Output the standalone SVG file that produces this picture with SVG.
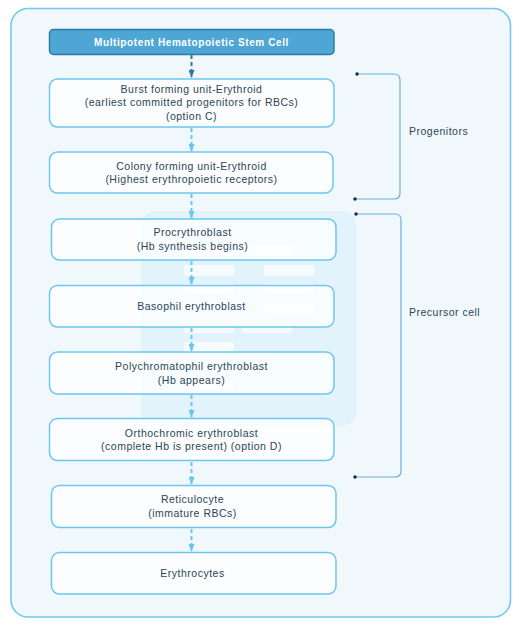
<svg xmlns="http://www.w3.org/2000/svg" width="519" height="625" viewBox="0 0 519 625">
<style>
.frame{fill:#f1f8fc;stroke:#72c8f2;stroke-width:1.6}
.box{fill:#ffffff;fill-opacity:0.72;stroke:#6cc6f0;stroke-width:1.5}
.top{fill:#4ea6d4;stroke:#2d7ba5;stroke-width:1.5}
.t{font-family:"Liberation Sans",Arial,sans-serif;font-size:10.5px;letter-spacing:0.5px;fill:#2b4656;text-anchor:middle}
.tb{font-family:"Liberation Sans",Arial,sans-serif;font-size:10px;letter-spacing:0.6px;font-weight:bold;fill:#ffffff;text-anchor:middle}
.lbl{font-family:"Liberation Sans",Arial,sans-serif;font-size:10.5px;letter-spacing:0.5px;fill:#2b4656}
.arr{fill:none;stroke:#6cc6f0;stroke-width:2;stroke-dasharray:4 3}
.arr0{fill:none;stroke:#2d7ba5;stroke-width:2;stroke-dasharray:4 3}
.br{fill:none;stroke:#6aaedd;stroke-width:1.2}
.dot{fill:#1b2836}
.wm{fill:#d4eef9;fill-opacity:0.5}
.bar{fill:#ffffff;fill-opacity:0.7}
</style>
<defs>
<marker id="ah" viewBox="0 0 8 6" refX="7" refY="3" markerWidth="8" markerHeight="6" markerUnits="userSpaceOnUse" orient="auto">
<path d="M0,0 L8,3 L0,6 Z" fill="#6cc6f0"/>
</marker>
<marker id="ah0" viewBox="0 0 8 6" refX="7" refY="3" markerWidth="8" markerHeight="6" markerUnits="userSpaceOnUse" orient="auto">
<path d="M0,0 L8,3 L0,6 Z" fill="#2d7ba5"/>
</marker>
</defs>
<rect class="frame" x="11" y="8.5" width="499.5" height="608.5" rx="17"/>
<g id="watermark">
<rect class="wm" x="141" y="211" width="216" height="215" rx="15"/>
<rect class="bar" x="184" y="245" width="50" height="11" rx="2"/>
<rect class="bar" x="242" y="245" width="50" height="11" rx="2"/>
<rect class="bar" x="184" y="265" width="50" height="11" rx="2"/>
<rect class="bar" x="264" y="265" width="50" height="11" rx="2"/>
<rect class="bar" x="184" y="284" width="50" height="10" rx="2"/>
<rect class="bar" x="264" y="284" width="50" height="10" rx="2"/>
<rect class="bar" x="264" y="303" width="50" height="11" rx="2"/>
<rect class="bar" x="184" y="322" width="50" height="11" rx="2"/>
<rect class="bar" x="242" y="322" width="50" height="11" rx="2"/>
<rect class="bar" x="184" y="342" width="50" height="10" rx="2"/>
<rect class="bar" x="184" y="380" width="50" height="10" rx="2"/>
</g>
<g id="connectors">
<path class="arr0" d="M191.5,55 V77" marker-end="url(#ah0)"/>
<path class="arr" d="M191.5,128 V151" marker-end="url(#ah)"/>
<path class="arr" d="M191.5,194 V218" marker-end="url(#ah)"/>
<path class="arr" d="M191.5,261 V284" marker-end="url(#ah)"/>
<path class="arr" d="M191.5,328 V351" marker-end="url(#ah)"/>
<path class="arr" d="M191.5,395 V417" marker-end="url(#ah)"/>
<path class="arr" d="M191.5,462 V484" marker-end="url(#ah)"/>
<path class="arr" d="M191.5,529 V551" marker-end="url(#ah)"/>
<path class="br" d="M357,74 H394 Q400,74 400,80 V193 Q400,199 394,199 H355"/>
<circle class="dot" cx="357" cy="74" r="1.7"/>
<circle class="dot" cx="355" cy="199" r="1.7"/>
<path class="br" d="M356,214 H395 Q401,214 401,220 V471 Q401,477 395,477 H355"/>
<circle class="dot" cx="356" cy="214" r="1.7"/>
<circle class="dot" cx="355" cy="477" r="1.7"/>
</g>
<g id="n0">
<rect class="top" x="49.5" y="29.5" width="284.5" height="25" rx="4"/>
<text class="tb" x="191.5" y="45.5">Multipotent Hematopoietic Stem Cell</text>
</g>
<g id="n1">
<rect class="box" x="49.5" y="79" width="284.5" height="48" rx="8"/>
<text class="t" x="191.5" y="93">Burst forming unit-Erythroid</text>
<text class="t" x="191.5" y="106">(earliest committed progenitors for RBCs)</text>
<text class="t" x="191.5" y="120">(option C)</text>
</g>
<g id="n2">
<rect class="box" x="49.5" y="152" width="283.5" height="41" rx="8"/>
<text class="t" x="191.5" y="170">Colony forming unit-Erythroid</text>
<text class="t" x="191.5" y="183">(Highest erythropoietic receptors)</text>
</g>
<g id="n3">
<rect class="box" x="51.5" y="219" width="284.5" height="41" rx="8"/>
<text class="t" x="192.5" y="236">Procrythroblast</text>
<text class="t" x="192.5" y="250">(Hb synthesis begins)</text>
</g>
<g id="n4">
<rect class="box" x="49.5" y="285.5" width="284.5" height="41.5" rx="8"/>
<text class="t" x="191.5" y="310">Basophil erythroblast</text>
</g>
<g id="n5">
<rect class="box" x="49.5" y="352" width="284.5" height="42" rx="8"/>
<text class="t" x="191.5" y="370">Polychromatophil erythroblast</text>
<text class="t" x="191.5" y="384">(Hb appears)</text>
</g>
<g id="n6">
<rect class="box" x="49.5" y="418.5" width="284.5" height="42" rx="8"/>
<text class="t" x="191.5" y="437">Orthochromic erythroblast</text>
<text class="t" x="191.5" y="450">(complete Hb is present) (option D)</text>
</g>
<g id="n7">
<rect class="box" x="51.5" y="485.5" width="284.5" height="42" rx="8"/>
<text class="t" x="192.5" y="503">Reticulocyte</text>
<text class="t" x="192.5" y="517">(immature RBCs)</text>
</g>
<g id="n8">
<rect class="box" x="51.5" y="552.5" width="284.5" height="41.5" rx="8"/>
<text class="t" x="192.5" y="577">Erythrocytes</text>
</g>
<g id="labels">
<text class="lbl" x="409" y="135">Progenitors</text>
<text class="lbl" x="409" y="316">Precursor cell</text>
</g>
</svg>
